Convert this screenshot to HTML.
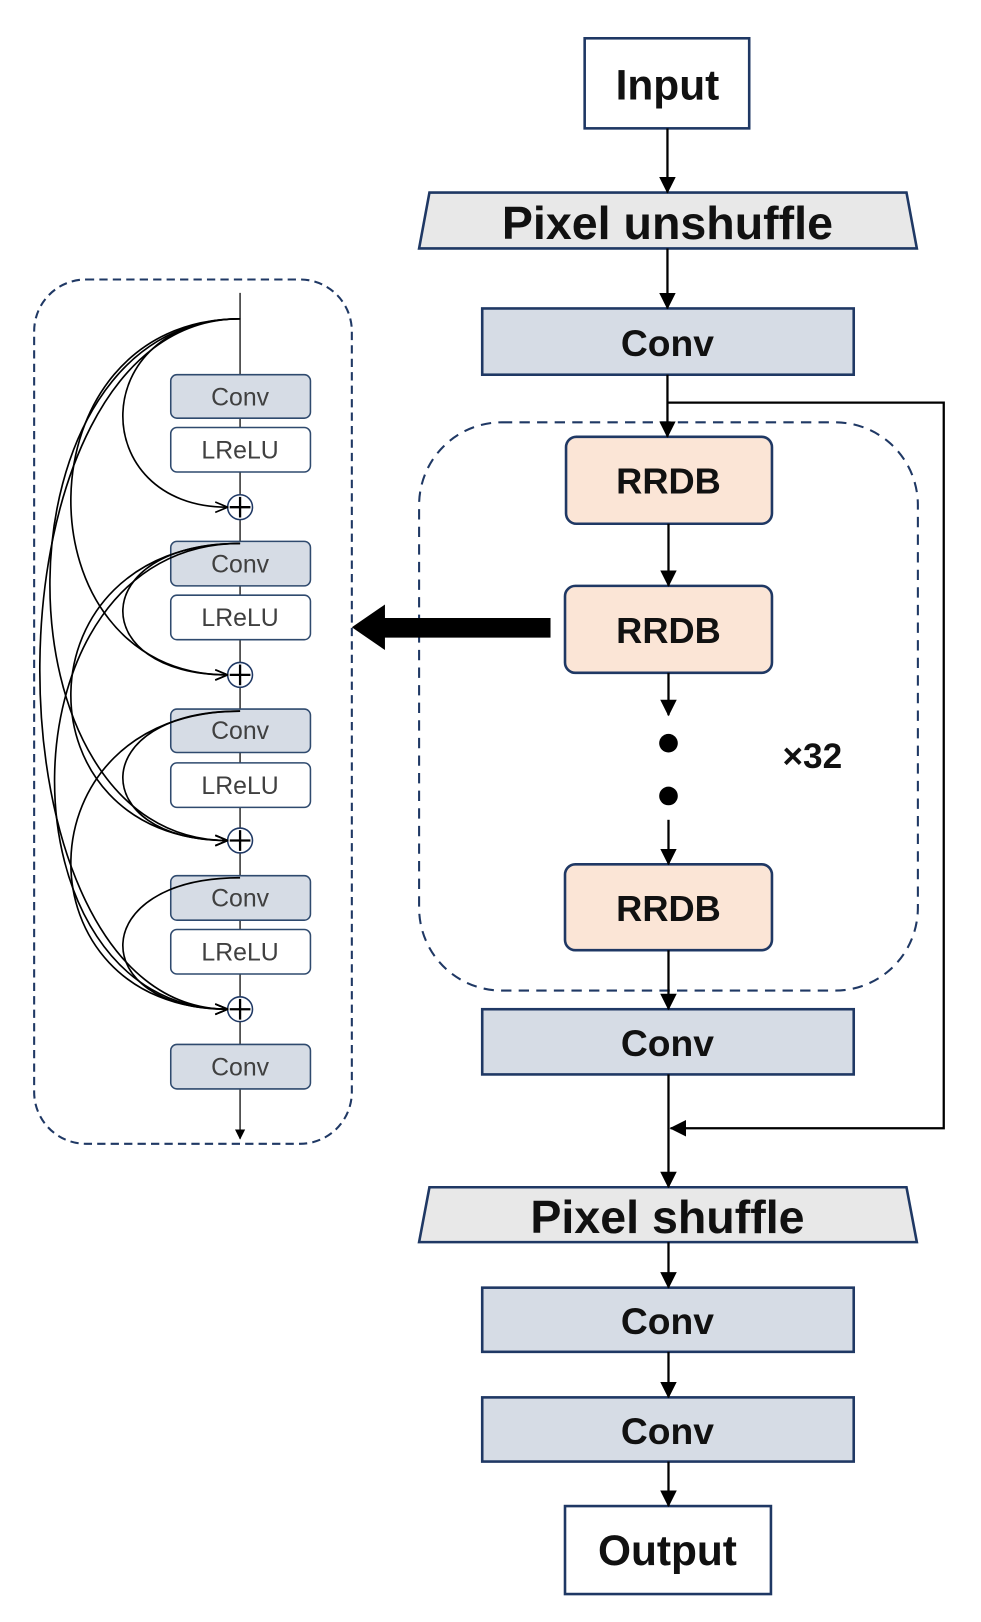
<!DOCTYPE html>
<html><head><meta charset="utf-8"><style>html,body{margin:0;padding:0;background:#fff}svg{display:block}</style></head>
<body>
<svg width="981" height="1622" viewBox="0 0 948 1567" preserveAspectRatio="none" xmlns="http://www.w3.org/2000/svg" font-family="Liberation Sans, sans-serif">
<defs>
<marker id="a" markerWidth="10" markerHeight="10" refX="9" refY="5" orient="auto" markerUnits="userSpaceOnUse"><path d="M0,0 L10,5 L0,10 z" fill="#000"/></marker>
<marker id="a2" markerWidth="16" markerHeight="16" refX="15" refY="8" orient="auto" markerUnits="userSpaceOnUse"><path d="M0,0 L16,8 L0,16 z" fill="#000"/></marker>
<marker id="o" markerWidth="14" markerHeight="12" refX="13" refY="6" orient="auto" markerUnits="userSpaceOnUse"><path d="M1,1 L13,6 L1,11" fill="none" stroke="#000" stroke-width="1.6"/></marker>
</defs>
<g stroke="#1f3864" stroke-width="2.5">
<rect x="565" y="37" width="159" height="87" fill="#fff"/>
<polygon points="415,186 876,186 886,240 405,240" fill="#e8e8e8"/>
<rect x="466" y="298" width="359" height="64" fill="#d6dce5"/>
<rect x="405" y="408" width="482" height="549" rx="80" fill="none" stroke-dasharray="10,7" stroke-width="2"/>
<rect x="547" y="422" width="199" height="84" rx="10" fill="#fbe5d6"/>
<rect x="546" y="566" width="200" height="84" rx="10" fill="#fbe5d6"/>
<rect x="546" y="835" width="200" height="83" rx="10" fill="#fbe5d6"/>
<rect x="466" y="975" width="359" height="63" fill="#d6dce5"/>
<polygon points="415,1147 876,1147 886,1200 405,1200" fill="#e8e8e8"/>
<rect x="466" y="1244" width="359" height="62" fill="#d6dce5"/>
<rect x="466" y="1350" width="359" height="62" fill="#d6dce5"/>
<rect x="546" y="1455" width="199" height="85" fill="#fff"/>
</g>
<g stroke="#000" stroke-width="2.2" fill="none">
<line x1="645" y1="124" x2="645" y2="186" marker-end="url(#a2)"/>
<line x1="645" y1="240" x2="645" y2="298" marker-end="url(#a2)"/>
<line x1="645" y1="362" x2="645" y2="422" marker-end="url(#a2)"/>
<polyline points="645,389 912,389 912,1090 648,1090" marker-end="url(#a2)"/>
<line x1="646" y1="506" x2="646" y2="566" marker-end="url(#a2)"/>
<line x1="646" y1="650" x2="646" y2="691" marker-end="url(#a2)"/>
<line x1="646" y1="792" x2="646" y2="835" marker-end="url(#a2)"/>
<line x1="646" y1="918" x2="646" y2="975" marker-end="url(#a2)"/>
<line x1="646" y1="1038" x2="646" y2="1147" marker-end="url(#a2)"/>
<line x1="646" y1="1200" x2="646" y2="1244" marker-end="url(#a2)"/>
<line x1="646" y1="1306" x2="646" y2="1350" marker-end="url(#a2)"/>
<line x1="646" y1="1412" x2="646" y2="1455" marker-end="url(#a2)"/>
</g>
<circle cx="646" cy="718" r="9" fill="#000"/>
<circle cx="646" cy="769" r="9" fill="#000"/>
<polygon points="532,597 372,597 372,584 340,606 372,628 372,616 532,616" fill="#000"/>
<g font-size="40" text-anchor="middle" fill="#111" font-weight="bold">
<text x="645" y="96" font-size="41">Input</text>
<text x="645" y="231" font-size="45">Pixel unshuffle</text>
<text x="645" y="344" font-size="36">Conv</text>
<text x="646" y="477" font-size="35">RRDB</text>
<text x="646" y="621" font-size="35">RRDB</text>
<text x="646" y="890" font-size="35">RRDB</text>
<text x="785" y="742" font-size="34">×32</text>
<text x="645" y="1020" font-size="36">Conv</text>
<text x="645" y="1191" font-size="45">Pixel shuffle</text>
<text x="645" y="1289" font-size="36">Conv</text>
<text x="645" y="1395" font-size="36">Conv</text>
<text x="645" y="1512" font-size="41">Output</text>
</g>
<rect x="33" y="270" width="307" height="835" rx="50" fill="none" stroke="#1f3864" stroke-width="2" stroke-dasharray="8,5"/>
<line x1="232" y1="283" x2="232" y2="1100" stroke="#333" stroke-width="1.5" marker-end="url(#a)"/>
<g stroke="#2f4a6e" stroke-width="1.5">
<rect x="165" y="362" width="135" height="42" rx="6" fill="#d6dce5"/>
<rect x="165" y="413" width="135" height="43" rx="6" fill="#fff"/>
<rect x="165" y="523" width="135" height="43" rx="6" fill="#d6dce5"/>
<rect x="165" y="575" width="135" height="43" rx="6" fill="#fff"/>
<rect x="165" y="685" width="135" height="42" rx="6" fill="#d6dce5"/>
<rect x="165" y="737" width="135" height="43" rx="6" fill="#fff"/>
<rect x="165" y="846" width="135" height="43" rx="6" fill="#d6dce5"/>
<rect x="165" y="898" width="135" height="43" rx="6" fill="#fff"/>
<rect x="165" y="1009" width="135" height="43" rx="6" fill="#d6dce5"/>
</g>
<g font-size="24" fill="#404040" text-anchor="middle">
<text x="232" y="392">Conv</text><text x="232" y="443">LReLU</text>
<text x="232" y="553">Conv</text><text x="232" y="605">LReLU</text>
<text x="232" y="714">Conv</text><text x="232" y="767">LReLU</text>
<text x="232" y="876">Conv</text><text x="232" y="928">LReLU</text>
<text x="232" y="1039">Conv</text>
</g>
<g stroke="#1f3864" stroke-width="1.5" fill="#fff">
<circle cx="232" cy="490" r="12"/><circle cx="232" cy="652" r="12"/><circle cx="232" cy="812" r="12"/><circle cx="232" cy="975" r="12"/>
</g>
<g stroke="#000" stroke-width="2.2">
<path d="M222,490h20M232,480v20M222,652h20M232,642v20M222,812h20M232,802v20M222,975h20M232,965v20"/>
</g>
<g stroke="#000" stroke-width="1.6" fill="none" marker-end="url(#o)">
<path d="M232,308 C83,308 83,490 220,490"/>
<path d="M232,308 C16,308 16,652 220,652"/>
<path d="M232,308 C-11,308 -11,812 220,812"/>
<path d="M232,308 C-24,308 -24,975 220,975"/>
<path d="M232,525 C83,525 83,652 220,652"/>
<path d="M232,525 C16,525 16,812 220,812"/>
<path d="M232,525 C-5,525 -5,975 220,975"/>
<path d="M232,687 C83,687 83,812 220,812"/>
<path d="M232,687 C16,687 16,975 220,975"/>
<path d="M232,848 C83,848 83,975 220,975"/>
</g>
</svg>
</body></html>
